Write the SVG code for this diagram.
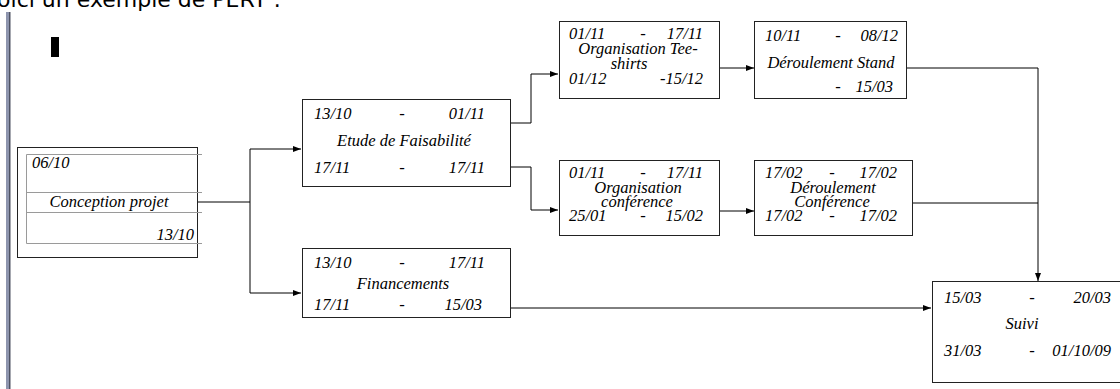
<svg xmlns="http://www.w3.org/2000/svg" width="1120" height="389" viewBox="0 0 1120 389">
  <defs>
    <marker id="arrow" viewBox="0 0 8 8" refX="8" refY="4" markerWidth="8" markerHeight="8" markerUnits="userSpaceOnUse" orient="auto">
      <path d="M0,1 L8,4 L0,7 Z" fill="#000"/>
    </marker>
    <style>
      .box { fill: #fff; stroke: #222; stroke-width: 1; }
      .grid { stroke: #9a9a9a; stroke-width: 1; fill: none; }
      .t { font-family: "Liberation Serif", "Times New Roman", serif; font-style: italic; font-size: 16.5px; fill: #000; }
      .c { text-anchor: middle; }
      .e { text-anchor: end; }
      .link { fill: none; stroke: #000; stroke-width: 1; }
      .head { font-family: "DejaVu Sans", Verdana, sans-serif; font-size: 22px; fill: #000; }
    </style>
  </defs>

  <rect width="1120" height="389" fill="#fff"/>

  <!-- page text and margin bar -->
  <text class="head" x="281" y="7" text-anchor="end">Voici un exemple de PERT :</text>
  <rect x="6" y="12" width="3" height="377" fill="#8e95ae"/>
  <rect x="9" y="12" width="1.5" height="377" fill="#4f5363"/>
  <rect x="51" y="37" width="8" height="20" fill="#000"/>

  <!-- connectors -->
  <g id="connectors">
    <path class="link" d="M197,202 H250"/>
    <path class="link" d="M250,149 V293"/>
    <path class="link" d="M250,149 H301" marker-end="url(#arrow)"/>
    <path class="link" d="M250,293 H301" marker-end="url(#arrow)"/>
    <path class="link" d="M510,123 H531 V74 H558" marker-end="url(#arrow)"/>
    <path class="link" d="M510,167 H531 V210 H558" marker-end="url(#arrow)"/>
    <path class="link" d="M719,68 H754" marker-end="url(#arrow)"/>
    <path class="link" d="M719,211 H754" marker-end="url(#arrow)"/>
    <path class="link" d="M907,68 H1038 V281" marker-end="url(#arrow)"/>
    <path class="link" d="M913,203 H1038"/>
    <path class="link" d="M510,308 H931" marker-end="url(#arrow)"/>
  </g>

  <!-- task nodes -->
  <g id="conception">
    <rect class="box" x="17.5" y="147.5" width="180" height="110"/>
    <path class="grid" d="M26.5,154.5 H202 M26.5,192.5 H202 M26.5,212.5 H202 M26.5,243.5 H202 M26.5,154.5 V243.5"/>
    <text class="t" x="32" y="168">06/10</text>
    <text class="t c" x="109" y="207">Conception projet</text>
    <text class="t e" x="194" y="240">13/10</text>
  </g>

  <g id="etude">
    <rect class="box" x="302.5" y="99.5" width="208" height="87"/>
    <text class="t" x="314" y="119">13/10</text>
    <text class="t c" x="402" y="119">-</text>
    <text class="t e" x="485" y="119">01/11</text>
    <text class="t c" x="404" y="146">Etude de Faisabilité</text>
    <text class="t" x="314" y="173">17/11</text>
    <text class="t c" x="402" y="173">-</text>
    <text class="t e" x="485" y="173">17/11</text>
  </g>

  <g id="financements">
    <rect class="box" x="302.5" y="248.5" width="208" height="69"/>
    <text class="t" x="314" y="268">13/10</text>
    <text class="t c" x="402" y="268">-</text>
    <text class="t e" x="485" y="268">17/11</text>
    <text class="t c" x="403" y="289">Financements</text>
    <text class="t" x="314" y="310">17/11</text>
    <text class="t c" x="402" y="310">-</text>
    <text class="t e" x="482" y="310">15/03</text>
  </g>

  <g id="tee-shirts">
    <rect class="box" x="559.5" y="21.5" width="160" height="77"/>
    <text class="t" x="569" y="39">01/11</text>
    <text class="t c" x="643" y="39">-</text>
    <text class="t e" x="703" y="39">17/11</text>
    <text class="t c" y="54"><tspan x="638">Organisation Tee-</tspan><tspan x="629" dy="15">shirts</tspan></text>
    <text class="t" x="569" y="84">01/12</text>
    <text class="t e" x="703" y="84">-15/12</text>
  </g>

  <g id="stand">
    <rect class="box" x="754.5" y="21.5" width="152" height="77"/>
    <text class="t" x="765" y="41">10/11</text>
    <text class="t c" x="838" y="41">-</text>
    <text class="t e" x="898" y="41">08/12</text>
    <text class="t c" x="831" y="68">Déroulement Stand</text>
    <text class="t c" x="838" y="92">-</text>
    <text class="t e" x="893" y="92">15/03</text>
  </g>

  <g id="org-conference">
    <rect class="box" x="559.5" y="160.5" width="160" height="75"/>
    <text class="t" x="569" y="178">01/11</text>
    <text class="t c" x="643" y="178">-</text>
    <text class="t e" x="703" y="178">17/11</text>
    <text class="t c" y="193"><tspan x="638">Organisation</tspan><tspan x="637" dy="14">conférence</tspan></text>
    <text class="t" x="569" y="221">25/01</text>
    <text class="t c" x="643" y="221">-</text>
    <text class="t e" x="703" y="221">15/02</text>
  </g>

  <g id="deroulement-conference">
    <rect class="box" x="754.5" y="160.5" width="158" height="75"/>
    <text class="t" x="765" y="178">17/02</text>
    <text class="t c" x="832" y="178">-</text>
    <text class="t e" x="897" y="178">17/02</text>
    <text class="t c" y="193"><tspan x="833">Déroulement</tspan><tspan x="832" dy="14">Conférence</tspan></text>
    <text class="t" x="765" y="221">17/02</text>
    <text class="t c" x="832" y="221">-</text>
    <text class="t e" x="897" y="221">17/02</text>
  </g>

  <g id="suivi">
    <rect class="box" x="932.5" y="281.5" width="200" height="101"/>
    <text class="t" x="944" y="303">15/03</text>
    <text class="t c" x="1032" y="303">-</text>
    <text class="t e" x="1111" y="303">20/03</text>
    <text class="t c" x="1022" y="329">Suivi</text>
    <text class="t" x="944" y="356">31/03</text>
    <text class="t c" x="1032" y="356">-</text>
    <text class="t e" x="1111" y="356">01/10/09</text>
  </g>
</svg>
